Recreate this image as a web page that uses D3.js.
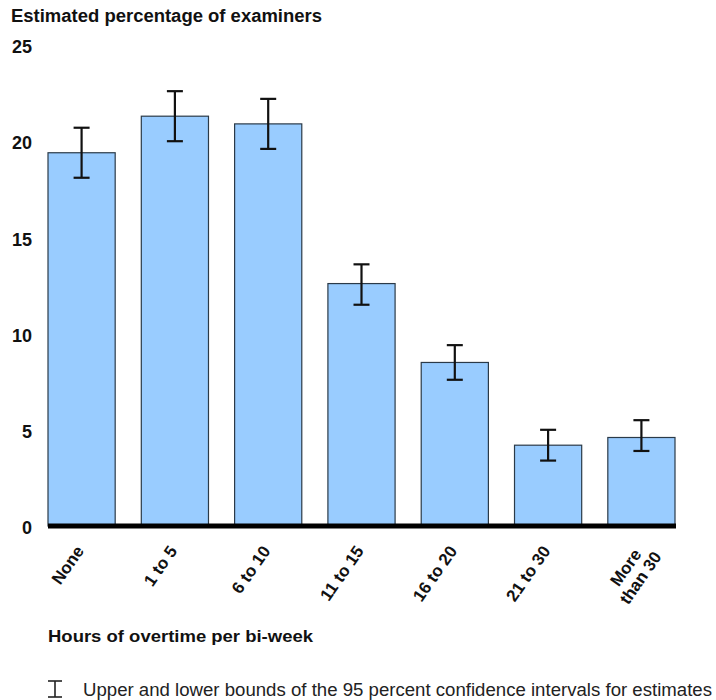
<!DOCTYPE html>
<html>
<head>
<meta charset="utf-8">
<script src="https://cdn.jsdelivr.net/npm/d3@7"></script>
<style>
  body { margin: 0; background: #fff; }
  svg { display: block; font-family: "Liberation Sans", Arial, sans-serif; }
</style>
</head>
<body>
<svg id="chart" width="716" height="700"></svg>
<script>
const categories = ["None", "1 to 5", "6 to 10", "11 to 15", "16 to 20", "21 to 30", "More than 30"];
const categoryLines = [["None"], ["1 to 5"], ["6 to 10"], ["11 to 15"], ["16 to 20"], ["21 to 30"], ["More", "than 30"]];
const estimates = [19.4, 21.3, 20.9, 12.6, 8.5, 4.2, 4.6];
const lowerBounds = [18.1, 20.0, 19.6, 11.5, 7.6, 3.4, 3.9];
const upperBounds = [20.7, 22.6, 22.2, 13.6, 9.4, 5.0, 5.5];
const yTicks = [0, 5, 10, 15, 20, 25];
const titleText = "Estimated percentage of examiners";
const xTitleText = "Hours of overtime per bi-week";
const legendText = "Upper and lower bounds of the 95 percent confidence intervals for estimates";

const svg = d3.select("#chart");

const x = d3.scaleBand().domain(categories).range([48, 675]).paddingInner(0.28).paddingOuter(0);
const y = d3.scaleLinear().domain([0, 25]).range([526, 45]);

// Title
svg.append("text").attr("x", 11).attr("y", 22)
  .attr("font-size", 17.5).attr("font-weight", "bold").attr("fill", "#111")
  .attr("textLength", 311).attr("lengthAdjust", "spacingAndGlyphs")
  .text(titleText);

// Y axis (labels only)
const yAxis = d3.axisLeft(y).tickValues(yTicks).tickSize(0).tickPadding(0).tickFormat(d3.format("d"));
const gy = svg.append("g").attr("transform", "translate(32,2)").call(yAxis);
gy.select(".domain").remove();
gy.selectAll("text").attr("font-size", 18).attr("font-weight", "bold").attr("fill", "#111")
  .attr("font-family", "Liberation Sans, Arial, sans-serif");

// Bars
svg.append("g").selectAll("rect").data(categories).join("rect")
  .attr("x", d => x(d))
  .attr("y", (d, i) => y(estimates[i]))
  .attr("width", x.bandwidth())
  .attr("height", (d, i) => y(0) - y(estimates[i]))
  .attr("fill", "#99CCFF")
  .attr("stroke", "#2b3a48")
  .attr("stroke-width", 1.2);

// Error bars
const capW = 16;
const eg = svg.append("g").attr("stroke", "#111").attr("stroke-width", 2.2);
categories.forEach((c, i) => {
  const cx = x(c) + x.bandwidth() / 2;
  eg.append("line").attr("x1", cx).attr("x2", cx).attr("y1", y(upperBounds[i])).attr("y2", y(lowerBounds[i]));
  eg.append("line").attr("x1", cx - capW / 2).attr("x2", cx + capW / 2).attr("y1", y(upperBounds[i])).attr("y2", y(upperBounds[i]));
  eg.append("line").attr("x1", cx - capW / 2).attr("x2", cx + capW / 2).attr("y1", y(lowerBounds[i])).attr("y2", y(lowerBounds[i]));
});

// Baseline
svg.append("line").attr("x1", 48).attr("x2", 676).attr("y1", y(0)).attr("y2", y(0))
  .attr("stroke", "#000").attr("stroke-width", 5);

// X axis labels (rotated)
const xAxis = d3.axisBottom(x).tickSize(0).tickFormat("");
const gx = svg.append("g").attr("transform", `translate(0,${y(0)})`).call(xAxis);
gx.select(".domain").remove();
gx.selectAll(".tick").each(function(d, i) {
  const lines = categoryLines[i];
  const t = d3.select(this).append("text")
    .attr("transform", "translate(3,25) rotate(-55)")
    .attr("font-size", 17).attr("font-weight", "bold").attr("fill", "#111")
    .attr("font-family", "Liberation Sans, Arial, sans-serif");
  if (lines.length === 1) {
    t.attr("text-anchor", "end").text(lines[0]);
  } else {
    const spans = lines.map((l, k) => t.append("tspan").attr("x", 0).attr("dy", k === 0 ? 0 : 18).text(l));
    const w1 = spans[0].node().getComputedTextLength();
    t.attr("text-anchor", "middle");
    spans.forEach(s => s.attr("x", -(w1 / 2 + 4)));
  }
});

// X axis title
svg.append("text").attr("x", 48).attr("y", 642)
  .attr("font-size", 17).attr("font-weight", "bold").attr("fill", "#111")
  .attr("textLength", 265).attr("lengthAdjust", "spacingAndGlyphs")
  .text(xTitleText);

// Legend
const lg = svg.append("g").attr("stroke", "#222").attr("stroke-width", 1.6);
lg.append("line").attr("x1", 55).attr("x2", 55).attr("y1", 681).attr("y2", 697);
lg.append("line").attr("x1", 48).attr("x2", 62).attr("y1", 681).attr("y2", 681);
lg.append("line").attr("x1", 48).attr("x2", 62).attr("y1", 697).attr("y2", 697);
svg.append("text").attr("x", 83).attr("y", 696)
  .attr("font-size", 17.5).attr("fill", "#222")
  .attr("textLength", 629).attr("lengthAdjust", "spacingAndGlyphs")
  .text(legendText);
</script>
</body>
</html>
